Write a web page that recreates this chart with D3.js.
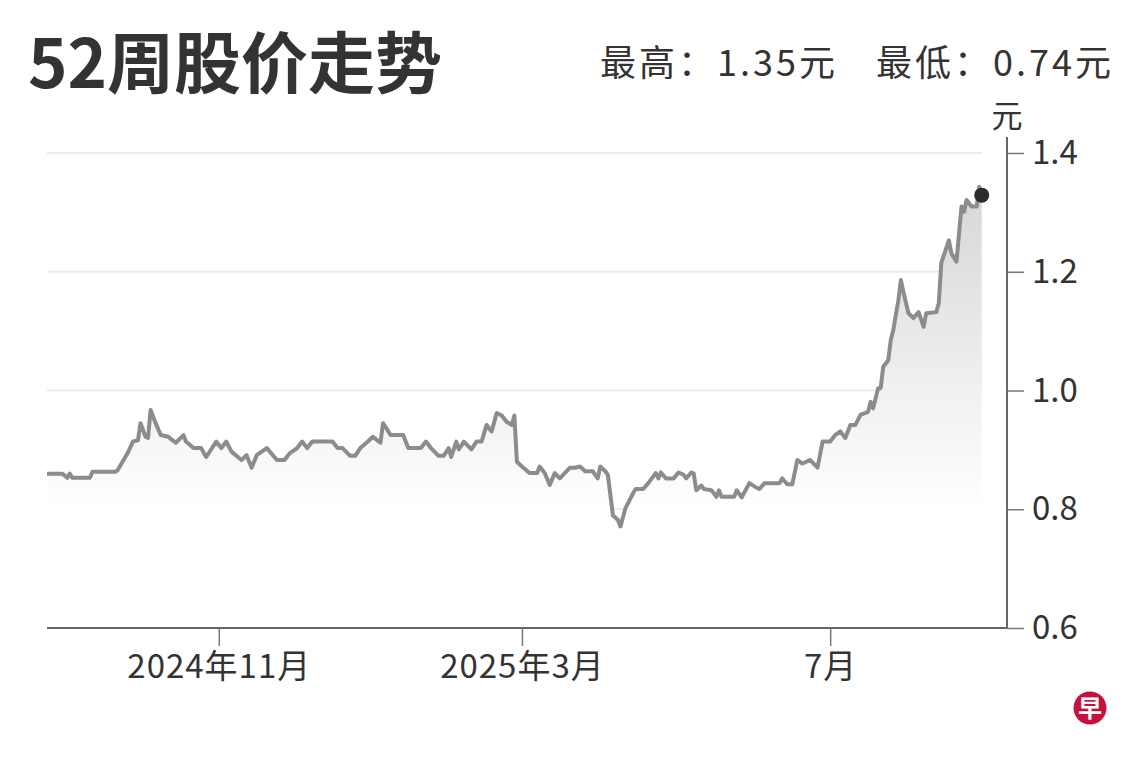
<!DOCTYPE html>
<html>
<head>
<meta charset="utf-8">
<script src="https://cdn.jsdelivr.net/npm/d3@7"></script>
<style>
  body { margin: 0; background: #fff; }
  svg { display: block; font-family: "Noto Sans CJK SC", "Noto Sans", sans-serif; }
</style>
</head>
<body>
<div id="chart"></div>
<script>
// daily closes
var dates = [
  "2024-08-25", "2024-08-31", "2024-09-02", "2024-09-03", "2024-09-04", "2024-09-11", "2024-09-12", "2024-09-21",
  "2024-09-22", "2024-09-26", "2024-09-28", "2024-09-30", "2024-10-01", "2024-10-03", "2024-10-04", "2024-10-05",
  "2024-10-07", "2024-10-09", "2024-10-12", "2024-10-15", "2024-10-18", "2024-10-19", "2024-10-22", "2024-10-25",
  "2024-10-27", "2024-10-31", "2024-11-02", "2024-11-04", "2024-11-06", "2024-11-10", "2024-11-12", "2024-11-14",
  "2024-11-16", "2024-11-20", "2024-11-24", "2024-11-27", "2024-11-29", "2024-12-02", "2024-12-04", "2024-12-06",
  "2024-12-08", "2024-12-16", "2024-12-18", "2024-12-20", "2024-12-23", "2024-12-25", "2024-12-27", "2024-12-30",
  "2025-01-01", "2025-01-04", "2025-01-05", "2025-01-08", "2025-01-13", "2025-01-15", "2025-01-20", "2025-01-22",
  "2025-01-24", "2025-01-27", "2025-01-29", "2025-01-31", "2025-02-01", "2025-02-03", "2025-02-04", "2025-02-06",
  "2025-02-09", "2025-02-11", "2025-02-13", "2025-02-15", "2025-02-17", "2025-02-19", "2025-02-21", "2025-02-23",
  "2025-02-25", "2025-02-26", "2025-02-27", "2025-03-01", "2025-03-04", "2025-03-07", "2025-03-08", "2025-03-10",
  "2025-03-12", "2025-03-14", "2025-03-16", "2025-03-20", "2025-03-22", "2025-03-24", "2025-03-26", "2025-03-29",
  "2025-03-31", "2025-04-01", "2025-04-03", "2025-04-04", "2025-04-06", "2025-04-08", "2025-04-09", "2025-04-11",
  "2025-04-14", "2025-04-15", "2025-04-18", "2025-04-20", "2025-04-23", "2025-04-24", "2025-04-25", "2025-04-27",
  "2025-04-30", "2025-05-02", "2025-05-04", "2025-05-05", "2025-05-07", "2025-05-08", "2025-05-09", "2025-05-11",
  "2025-05-12", "2025-05-15", "2025-05-17", "2025-05-18", "2025-05-19", "2025-05-24", "2025-05-25", "2025-05-27",
  "2025-05-30", "2025-06-02", "2025-06-03", "2025-06-05", "2025-06-11", "2025-06-12", "2025-06-14", "2025-06-16",
  "2025-06-18", "2025-06-20", "2025-06-23", "2025-06-26", "2025-06-28", "2025-07-01", "2025-07-03", "2025-07-05",
  "2025-07-07", "2025-07-09", "2025-07-11", "2025-07-13", "2025-07-16", "2025-07-17", "2025-07-18", "2025-07-20",
  "2025-07-21", "2025-07-22", "2025-07-24", "2025-07-25", "2025-07-26", "2025-07-28", "2025-07-29", "2025-07-30",
  "2025-08-01", "2025-08-03", "2025-08-05", "2025-08-07", "2025-08-08", "2025-08-12", "2025-08-13", "2025-08-14",
  "2025-08-17", "2025-08-18", "2025-08-20", "2025-08-22", "2025-08-23", "2025-08-24", "2025-08-26", "2025-08-28",
  "2025-08-29", "2025-08-30"
];
var prices = [
  0.860, 0.860, 0.853, 0.860, 0.853, 0.853, 0.863, 0.863,
  0.866, 0.895, 0.914, 0.916, 0.945, 0.922, 0.920, 0.967,
  0.945, 0.925, 0.922, 0.912, 0.925, 0.914, 0.903, 0.903,
  0.888, 0.914, 0.903, 0.914, 0.897, 0.883, 0.891, 0.870,
  0.891, 0.903, 0.883, 0.883, 0.894, 0.903, 0.914, 0.903,
  0.914, 0.914, 0.903, 0.903, 0.890, 0.890, 0.903, 0.914,
  0.922, 0.912, 0.945, 0.925, 0.925, 0.903, 0.903, 0.914,
  0.903, 0.890, 0.890, 0.903, 0.888, 0.914, 0.901, 0.914,
  0.901, 0.914, 0.914, 0.942, 0.931, 0.962, 0.958, 0.947,
  0.942, 0.958, 0.880, 0.872, 0.861, 0.861, 0.872, 0.861,
  0.841, 0.861, 0.852, 0.870, 0.870, 0.872, 0.864, 0.864,
  0.852, 0.872, 0.864, 0.858, 0.790, 0.782, 0.771, 0.802,
  0.827, 0.834, 0.834, 0.844, 0.861, 0.852, 0.862, 0.852,
  0.852, 0.862, 0.858, 0.852, 0.862, 0.860, 0.832, 0.840,
  0.834, 0.832, 0.821, 0.832, 0.821, 0.821, 0.832, 0.820,
  0.844, 0.836, 0.834, 0.844, 0.844, 0.852, 0.842, 0.842,
  0.883, 0.877, 0.883, 0.870, 0.914, 0.914, 0.925, 0.931,
  0.920, 0.942, 0.942, 0.959, 0.964, 0.981, 0.970, 1.004,
  1.004, 1.040, 1.051, 1.085, 1.102, 1.152, 1.186, 1.166,
  1.130, 1.122, 1.132, 1.107, 1.130, 1.132, 1.147, 1.215,
  1.253, 1.231, 1.217, 1.310, 1.301, 1.321, 1.310, 1.310,
  1.343, 1.329
];
var yTicks = [0.6, 0.8, 1.0, 1.2, 1.4];
var xTickDates = ["2024-11-01", "2025-03-01", "2025-07-01"];
var xTickLabels = ["2024年11月", "2025年3月", "7月"];
var xDomain = ["2024-08-25", "2025-09-09"];
var titleText = "52周股价走势";
var highText = "最高：1.35元";
var lowText = "最低：0.74元";
var unitText = "元";

var width = 1140, height = 760;
var margin = { top: 153, right: 133, bottom: 132, left: 47 };
var parse = d3.timeParse("%Y-%m-%d");

var data = dates.map(function (d, i) {
  return { date: parse(d), value: prices[i] };
});

var svg = d3.select("#chart").append("svg")
  .attr("width", width)
  .attr("height", height);

var x = d3.scaleTime()
  .domain(xDomain.map(parse))
  .range([margin.left, width - margin.right]);

var y = d3.scaleLinear()
  .domain([0.6, 1.4])
  .range([height - margin.bottom, margin.top]);

var lastX = x(data[data.length - 1].date);

// gradient for the area under the line
var grad = svg.append("defs").append("linearGradient")
  .attr("id", "fade")
  .attr("gradientUnits", "userSpaceOnUse")
  .attr("x1", 0).attr("y1", y(1.4))
  .attr("x2", 0).attr("y2", y(0.8));
grad.append("stop").attr("offset", "0%").attr("stop-color", "#d2d2d2");
grad.append("stop").attr("offset", "100%").attr("stop-color", "#ffffff");

// gridlines
svg.append("g")
  .selectAll("line")
  .data(yTicks.filter(function (t) { return t > 0.6; }))
  .enter()
  .append("line")
  .attr("x1", margin.left)
  .attr("x2", lastX)
  .attr("y1", function (d) { return y(d); })
  .attr("y2", function (d) { return y(d); })
  .attr("stroke", "#ebebeb")
  .attr("stroke-width", 2);

var area = d3.area()
  .x(function (d) { return x(d.date); })
  .y0(y(0.6))
  .y1(function (d) { return y(d.value); });

svg.append("path")
  .datum(data)
  .attr("d", area)
  .attr("fill", "url(#fade)");

var line = d3.line()
  .x(function (d) { return x(d.date); })
  .y(function (d) { return y(d.value); });

svg.append("path")
  .datum(data)
  .attr("d", line)
  .attr("fill", "none")
  .attr("stroke", "#8c8c8c")
  .attr("stroke-width", 4)
  .attr("stroke-linejoin", "round");

// last close dot
var last = data[data.length - 1];
svg.append("circle")
  .attr("cx", x(last.date))
  .attr("cy", y(last.value))
  .attr("r", 7.5)
  .attr("fill", "#2b2b2b");

// x axis
var xAxis = d3.axisBottom(x)
  .tickValues(xTickDates.map(parse))
  .tickFormat(function (d, i) { return xTickLabels[i]; })
  .tickSize(18)
  .tickPadding(9);

var gx = svg.append("g")
  .attr("transform", "translate(0," + y(0.6) + ")")
  .call(xAxis);
gx.select(".domain")
  .attr("d", "M" + margin.left + ",0H" + (width - margin.right))
  .attr("stroke", "#666")
  .attr("stroke-width", 2);
gx.selectAll(".tick line").attr("stroke", "#777").attr("stroke-width", 1.5);
gx.selectAll(".tick text")
  .attr("fill", "#333")
  .style("font-size", "33px")
  .style("letter-spacing", "1px")
  .style("font-family", "'Noto Sans CJK SC', sans-serif");

// y axis on the right
var yAxis = d3.axisRight(y)
  .tickValues(yTicks)
  .tickFormat(d3.format(".1f"))
  .tickSize(17)
  .tickPadding(8);

var gy = svg.append("g")
  .attr("transform", "translate(" + (width - margin.right) + ",0)")
  .call(yAxis);
gy.select(".domain")
  .attr("d", "M0," + (margin.top - 16) + "V" + y(0.6))
  .attr("stroke", "#666")
  .attr("stroke-width", 2);
gy.selectAll(".tick line").attr("stroke", "#777").attr("stroke-width", 1.5);
gy.selectAll(".tick text")
  .attr("fill", "#333")
  .style("font-size", "33px")
  .style("font-family", "'Noto Sans CJK SC', sans-serif");

svg.append("text")
  .attr("x", width - margin.right)
  .attr("y", 127)
  .attr("text-anchor", "middle")
  .attr("fill", "#333")
  .style("font-size", "31px")
  .text(unitText);

// header
svg.append("text")
  .attr("x", 28)
  .attr("y", 88)
  .attr("fill", "#333")
  .style("font-size", "67px")
  .style("font-weight", 700)
  .text(titleText);

svg.append("text")
  .attr("x", 600)
  .attr("y", 76)
  .attr("fill", "#333")
  .style("font-size", "36px")
  .style("letter-spacing", "3px")
  .text(highText);

svg.append("text")
  .attr("x", 876)
  .attr("y", 76)
  .attr("fill", "#333")
  .style("font-size", "36px")
  .style("letter-spacing", "3px")
  .text(lowText);

// logo
var logo = svg.append("g").attr("transform", "translate(1090,708)");
logo.append("circle").attr("r", 16.5).attr("fill", "#c4123e");
logo.append("text")
  .attr("text-anchor", "middle")
  .attr("dy", "0.36em")
  .attr("fill", "#fff")
  .style("font-size", "24px")
  .style("font-weight", 700)
  .text("早");
</script>
</body>
</html>
